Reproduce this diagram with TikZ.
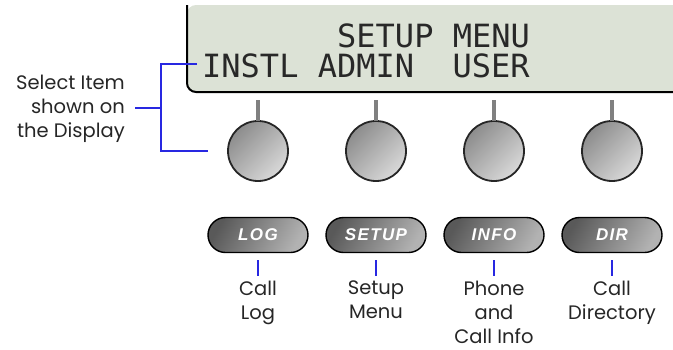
\documentclass[tikz,border=0pt]{standalone}
\usepackage{fontspec}
\setmainfont{Poppins}
\newfontfamily\lcdfont{DejaVu Sans Mono}
\newfontfamily\keyfont[LetterSpace=8]{Liberation Sans}
\usetikzlibrary{shapes.misc}

\definecolor{lcdback}{RGB}{220,226,214}
\definecolor{lcdink}{RGB}{40,40,40}
\definecolor{callblue}{RGB}{40,40,225}

\tikzset{
  knob/.style={circle, draw=black!85, line width=1.8pt, minimum size=60pt, inner sep=0pt,
    left color=black!45, right color=black!15, shading angle=45},
  softkey/.style={rounded rectangle, draw=black, line width=1.4pt, minimum width=100pt,
    minimum height=35pt, inner sep=0pt, left color=black!65, right color=black!30,
    shading angle=60, text=white, font=\keyfont\bfseries\itshape\fontsize{17}{17}\selectfont},
  stem/.style={line width=4pt, black!50},
  callout/.style={callblue, line width=1.2pt},
  caption/.style={align=center, inner sep=0pt, text=black!85, font=\fontsize{19.5}{24}\selectfont},
  lcdline/.style={anchor=base west, inner sep=0pt, text=lcdink, font=\lcdfont\fontsize{32}{32}\selectfont}
}

\begin{document}
\begin{tikzpicture}[x=1pt, y=-1pt]
    \useasboundingbox (0,0) rectangle (673,349);

    % display window
    \fill[lcdback] (187,5) [rounded corners=9pt] -- (187,92) -- (700,92) -- (700,5) -- cycle;
    \draw[line width=2pt] (187,5) [rounded corners=9pt] -- (187,92) -- (700,92);
    \node[lcdline] (title) at (337,47) {SETUP MENU};
    \node[lcdline] (items) at (202,77) {INSTL ADMIN\ \ USER};

    % knobs, soft keys and their captions
    \foreach \x/\key/\lab [count=\i] in {258/LOG/{Call\\Log}, 376/SETUP/{Setup\\Menu},
        494/INFO/{Phone\\and\\Call Info}, 612/DIR/{Call\\Directory}} {
        \node[knob] (knob\i) at (\x,151) {};
        \draw[stem] ([yshift=-1pt]knob\i.north) -- ++(0,-21);
        \node[softkey] (key\i) at (\x,235) {\key};
        \node[caption, anchor=north] (cap\i) at (\x,281) {\lab};
        \draw[callout] ([yshift=-7pt]key\i.south) -- ([yshift=5pt]cap\i.north);
    }

    % bracket for the knob row
    \node[caption, align=right, anchor=east] (sel) at (125,109)
        {Select Item\\shown on\\the Display};
    \coordinate (selA) at (197,64);
    \coordinate (selB) at (208,151);
    \draw[callout] (selA) -- ++(-36,0) |- (selB);
    \draw[callout] ([xshift=10pt]sel.east |- 0,108) -- (161,108);
\end{tikzpicture}
\end{document}
